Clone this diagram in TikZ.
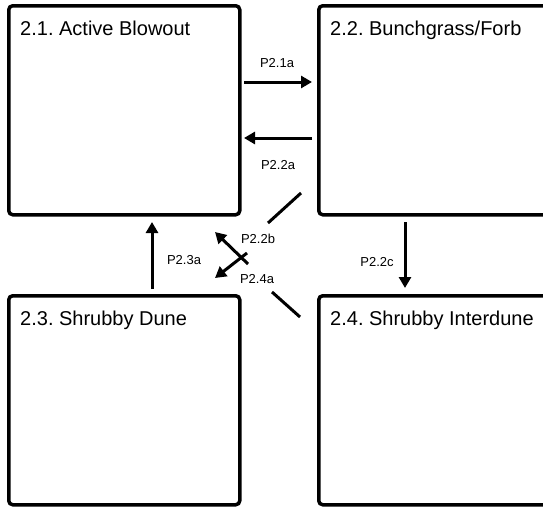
\documentclass[tikz,border=0pt]{standalone}
\usepackage{fontspec}
\setmainfont{Liberation Sans}
\frenchspacing
\usetikzlibrary{positioning}
\usetikzlibrary{arrows.meta}
\tikzset{statebox/.style = {draw, line width = 3.5pt, rounded corners = 4pt, inner sep = 0, minimum width = 231pt, minimum height = 209pt, anchor = north west}}
\tikzset{boxtitle/.style = {font = \fontsize{20}{24}\selectfont, inner sep = 0, anchor = base west}}
\tikzset{plabel/.style = {font = \fontsize{13}{15}\selectfont, inner sep = 0}}
\tikzset{trans/.style = {line width = 3pt, -{Triangle[length = 11pt, width = 12pt]}}}

\begin{document}
\begin{tikzpicture}[x = 1pt, y = -1pt]
    \useasboundingbox (0,0) rectangle (543,506);
    \clip (0,0) rectangle (543,506);
    % state boxes
    \node[statebox] (s21) at (7,4) {};
    \node[statebox, minimum width = 250pt] (s22) at (317,4) {};
    \node[statebox] (s23) at (7,294) {};
    \node[statebox, minimum width = 250pt] (s24) at (317,294) {};
    \node[boxtitle] at ([xshift = 13pt, yshift = -31pt]s21.north west) {2.1. Active Blowout};
    \node[boxtitle] at ([xshift = 13pt, yshift = -31pt]s22.north west) {2.2. Bunchgrass/Forb};
    \node[boxtitle] at ([xshift = 13pt, yshift = -31pt]s23.north west) {2.3. Shrubby Dune};
    \node[boxtitle] at ([xshift = 13pt, yshift = -31pt]s24.north west) {2.4. Shrubby Interdune};
    % end points of the transitions
    \coordinate (p21s) at (244,82);
    \coordinate (p21e) at (312,82);
    \coordinate (p22as) at (312,138);
    \coordinate (p22ae) at (244,138);
    \coordinate (p22cs) at (405,222);
    \coordinate (p22ce) at (405,288);
    \coordinate (p23s) at (152,289);
    \coordinate (p23e) at (152,222);
    \coordinate (p22bs) at (248,264);
    \coordinate (p22be) at (215,232);
    \coordinate (p24s) at (247,253);
    \coordinate (p24e) at (215,278);
    \coordinate (stubas) at (301,193);
    \coordinate (stubae) at (268,223);
    \coordinate (stubbs) at (272,292);
    \coordinate (stubbe) at (300,317);
    \draw[trans] (p21s) -- (p21e);
    \draw[trans] (p22as) -- (p22ae);
    \draw[trans] (p22cs) -- (p22ce);
    \draw[trans] (p23s) -- (p23e);
    \draw[trans] (p22bs) -- (p22be);
    \draw[trans] (p24s) -- (p24e);
    \draw[line width = 3pt] (stubas) -- (stubae);
    \draw[line width = 3pt] (stubbs) -- (stubbe);
    \node[plabel] (l21a) at (277,63) {P2.1a};
    \node[plabel] (l22a) at (278,165) {P2.2a};
    \node[plabel] (l22b) at (258,239) {P2.2b};
    \node[plabel] (l24a) at (257,279) {P2.4a};
    \node[plabel] (l23a) at (184,260) {P2.3a};
    \node[plabel] (l22c) at (377,262) {P2.2c};
\end{tikzpicture}
\end{document}
